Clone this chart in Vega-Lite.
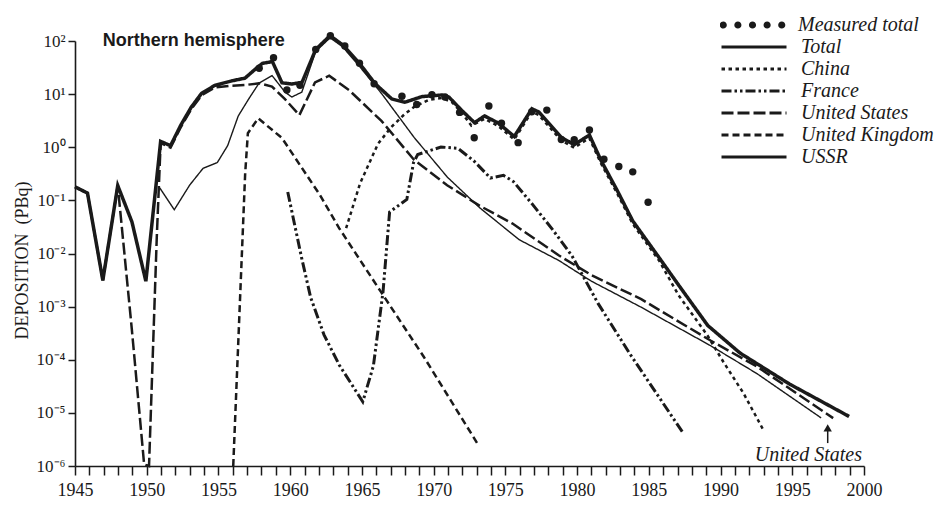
{
  "$schema": "https://vega.github.io/schema/vega-lite/v6.json",
  "width": 789,
  "height": 425,
  "autosize": {"type": "none"},
  "padding": {"left": 75, "top": 41, "right": 77, "bottom": 44},
  "background": "white",
  "config": {
    "view": {"stroke": null},
    "font": "Liberation Serif",
    "axis": {"grid": false, "ticks": true, "tickOpacity": 1, "labelOverlap": false, "domainColor": "#1a1a1a", "domainWidth": 1.6, "tickColor": "#1a1a1a", "tickWidth": 1.5, "labelColor": "#1a1a1a", "labelFont": "Liberation Serif", "titleFont": "Liberation Serif", "titleColor": "#1a1a1a"},
    "axisX": {"labelOverlap": false},
    "axisY": {"labelOverlap": false}
  },
  "datasets": {
    "deposition": [
      {"series": "Total", "year": 1945.0, "value": 0.18},
      {"series": "Total", "year": 1945.87, "value": 0.137},
      {"series": "Total", "year": 1946.94, "value": 0.00312},
      {"series": "Total", "year": 1947.98, "value": 0.19},
      {"series": "Total", "year": 1948.97, "value": 0.0393},
      {"series": "Total", "year": 1949.94, "value": 0.00301},
      {"series": "Total", "year": 1950.97, "value": 1.29},
      {"series": "Total", "year": 1951.66, "value": 1.07},
      {"series": "Total", "year": 1952.39, "value": 2.65},
      {"series": "Total", "year": 1953.11, "value": 5.71},
      {"series": "Total", "year": 1953.83, "value": 10.4},
      {"series": "Total", "year": 1954.75, "value": 14.6},
      {"series": "Total", "year": 1955.94, "value": 17.8},
      {"series": "Total", "year": 1956.85, "value": 20.0},
      {"series": "Total", "year": 1957.56, "value": 29.4},
      {"series": "Total", "year": 1958.06, "value": 37.9},
      {"series": "Total", "year": 1958.76, "value": 41.0},
      {"series": "Total", "year": 1959.43, "value": 16.3},
      {"series": "Total", "year": 1960.12, "value": 15.5},
      {"series": "Total", "year": 1960.83, "value": 16.7},
      {"series": "Total", "year": 1961.78, "value": 69.3},
      {"series": "Total", "year": 1962.78, "value": 126},
      {"series": "Total", "year": 1963.67, "value": 84.1},
      {"series": "Total", "year": 1964.83, "value": 38.0},
      {"series": "Total", "year": 1965.92, "value": 15.7},
      {"series": "Total", "year": 1967.09, "value": 8.09},
      {"series": "Total", "year": 1967.99, "value": 7.03},
      {"series": "Total", "year": 1969.18, "value": 8.97},
      {"series": "Total", "year": 1970.58, "value": 9.64},
      {"series": "Total", "year": 1971.07, "value": 8.77},
      {"series": "Total", "year": 1971.96, "value": 4.93},
      {"series": "Total", "year": 1972.85, "value": 2.9},
      {"series": "Total", "year": 1973.55, "value": 3.89},
      {"series": "Total", "year": 1974.52, "value": 2.84},
      {"series": "Total", "year": 1975.62, "value": 1.59},
      {"series": "Total", "year": 1976.85, "value": 5.3},
      {"series": "Total", "year": 1977.33, "value": 4.61},
      {"series": "Total", "year": 1978.9, "value": 1.53},
      {"series": "Total", "year": 1979.8, "value": 1.12},
      {"series": "Total", "year": 1980.86, "value": 1.7},
      {"series": "Total", "year": 1981.66, "value": 0.569},
      {"series": "Total", "year": 1982.8, "value": 0.153},
      {"series": "Total", "year": 1983.88, "value": 0.041},
      {"series": "Total", "year": 1985.71, "value": 0.00841},
      {"series": "Total", "year": 1987.07, "value": 0.00256},
      {"series": "Total", "year": 1989.11, "value": 0.000441},
      {"series": "Total", "year": 1991.37, "value": 0.000133},
      {"series": "Total", "year": 1994.82, "value": 0.0000347},
      {"series": "Total", "year": 1998.96, "value": 0.00000857},

      {"series": "China", "year": 1963.9, "value": 0.0299},
      {"series": "China", "year": 1964.87, "value": 0.208},
      {"series": "China", "year": 1966.12, "value": 1.16},
      {"series": "China", "year": 1967.05, "value": 2.4},
      {"series": "China", "year": 1967.97, "value": 4.18},
      {"series": "China", "year": 1968.68, "value": 5.86},
      {"series": "China", "year": 1969.67, "value": 7.83},
      {"series": "China", "year": 1970.58, "value": 8.45},
      {"series": "China", "year": 1971.27, "value": 7.05},
      {"series": "China", "year": 1971.95, "value": 4.52},
      {"series": "China", "year": 1972.63, "value": 2.55},
      {"series": "China", "year": 1973.55, "value": 3.42},
      {"series": "China", "year": 1974.52, "value": 2.49},
      {"series": "China", "year": 1975.62, "value": 1.4},
      {"series": "China", "year": 1976.84, "value": 4.65},
      {"series": "China", "year": 1977.32, "value": 4.06},
      {"series": "China", "year": 1978.9, "value": 1.34},
      {"series": "China", "year": 1979.79, "value": 0.982},
      {"series": "China", "year": 1980.85, "value": 1.49},
      {"series": "China", "year": 1981.66, "value": 0.5},
      {"series": "China", "year": 1982.8, "value": 0.134},
      {"series": "China", "year": 1983.88, "value": 0.036},
      {"series": "China", "year": 1985.71, "value": 0.0074},
      {"series": "China", "year": 1987.06, "value": 0.00166},
      {"series": "China", "year": 1989.09, "value": 0.000286},
      {"series": "China", "year": 1990.24, "value": 0.0000873},
      {"series": "China", "year": 1991.6, "value": 0.0000234},
      {"series": "China", "year": 1992.94, "value": 0.00000502},

      {"series": "France", "year": 1959.83, "value": 0.144},
      {"series": "France", "year": 1960.79, "value": 0.00845},
      {"series": "France", "year": 1961.43, "value": 0.00148},
      {"series": "France", "year": 1962.36, "value": 0.000294},
      {"series": "France", "year": 1963.43, "value": 0.0000789},
      {"series": "France", "year": 1965.06, "value": 0.0000162},
      {"series": "France", "year": 1965.8, "value": 0.0000766},
      {"series": "France", "year": 1966.47, "value": 0.00188},
      {"series": "France", "year": 1966.93, "value": 0.0603},
      {"series": "France", "year": 1968.13, "value": 0.104},
      {"series": "France", "year": 1968.6, "value": 0.516},
      {"series": "France", "year": 1968.89, "value": 0.728},
      {"series": "France", "year": 1970.51, "value": 1.01},
      {"series": "France", "year": 1971.69, "value": 0.953},
      {"series": "France", "year": 1972.79, "value": 0.558},
      {"series": "France", "year": 1973.96, "value": 0.263},
      {"series": "France", "year": 1974.87, "value": 0.296},
      {"series": "France", "year": 1975.56, "value": 0.226},
      {"series": "France", "year": 1976.92, "value": 0.0822},
      {"series": "France", "year": 1978.28, "value": 0.0285},
      {"series": "France", "year": 1979.64, "value": 0.00908},
      {"series": "France", "year": 1981.46, "value": 0.00115},
      {"series": "France", "year": 1983.69, "value": 0.000128},
      {"series": "France", "year": 1987.35, "value": 0.00000434},

      {"series": "United States", "year": 1945.0, "value": 0.18},
      {"series": "United States", "year": 1945.87, "value": 0.137},
      {"series": "United States", "year": 1946.94, "value": 0.00312},
      {"series": "United States", "year": 1947.98, "value": 0.19},
      {"series": "United States", "year": 1948.96, "value": 0.000379},
      {"series": "United States", "year": 1949.82, "value": 0.00000107},
      {"series": "United States", "year": 1950.16, "value": 0.000001},
      {"series": "United States", "year": 1950.7, "value": 0.02},
      {"series": "United States", "year": 1950.97, "value": 1.2},
      {"series": "United States", "year": 1951.66, "value": 0.982},
      {"series": "United States", "year": 1952.39, "value": 2.43},
      {"series": "United States", "year": 1953.11, "value": 5.25},
      {"series": "United States", "year": 1953.83, "value": 9.53},
      {"series": "United States", "year": 1954.74, "value": 13.3},
      {"series": "United States", "year": 1955.93, "value": 14.4},
      {"series": "United States", "year": 1956.84, "value": 14.8},
      {"series": "United States", "year": 1957.82, "value": 16.0},
      {"series": "United States", "year": 1958.73, "value": 13.9},
      {"series": "United States", "year": 1959.62, "value": 8.15},
      {"series": "United States", "year": 1960.64, "value": 4.02},
      {"series": "United States", "year": 1961.73, "value": 16.6},
      {"series": "United States", "year": 1962.72, "value": 22.2},
      {"series": "United States", "year": 1964.1, "value": 11.9},
      {"series": "United States", "year": 1966.36, "value": 3.14},
      {"series": "United States", "year": 1968.61, "value": 0.589},
      {"series": "United States", "year": 1970.94, "value": 0.193},
      {"series": "United States", "year": 1973.22, "value": 0.0789},
      {"series": "United States", "year": 1975.5, "value": 0.0366},
      {"series": "United States", "year": 1978.74, "value": 0.00916},
      {"series": "United States", "year": 1981.01, "value": 0.00391},
      {"series": "United States", "year": 1984.47, "value": 0.00138},
      {"series": "United States", "year": 1989.3, "value": 0.00023},
      {"series": "United States", "year": 1992.54, "value": 0.0000745},
      {"series": "United States", "year": 1997.85, "value": 0.00000796},

      {"series": "United Kingdom", "year": 1956.03, "value": 0.000001},
      {"series": "United Kingdom", "year": 1956.86, "value": 0.312},
      {"series": "United Kingdom", "year": 1957.05, "value": 1.84},
      {"series": "United Kingdom", "year": 1957.77, "value": 3.5},
      {"series": "United Kingdom", "year": 1959.42, "value": 1.5},
      {"series": "United Kingdom", "year": 1962.06, "value": 0.128},
      {"series": "United Kingdom", "year": 1963.41, "value": 0.0301},
      {"series": "United Kingdom", "year": 1966.33, "value": 0.00189},
      {"series": "United Kingdom", "year": 1969.31, "value": 0.000114},
      {"series": "United Kingdom", "year": 1973.03, "value": 0.00000271},

      {"series": "USSR", "year": 1950.84, "value": 0.183},
      {"series": "USSR", "year": 1951.92, "value": 0.0667},
      {"series": "USSR", "year": 1953.0, "value": 0.195},
      {"series": "USSR", "year": 1953.93, "value": 0.402},
      {"series": "USSR", "year": 1954.92, "value": 0.515},
      {"series": "USSR", "year": 1955.64, "value": 1.07},
      {"series": "USSR", "year": 1956.38, "value": 3.88},
      {"series": "USSR", "year": 1957.1, "value": 8.04},
      {"series": "USSR", "year": 1957.82, "value": 16.0},
      {"series": "USSR", "year": 1958.74, "value": 22.3},
      {"series": "USSR", "year": 1959.63, "value": 11.0},
      {"series": "USSR", "year": 1960.11, "value": 8.81},
      {"series": "USSR", "year": 1960.81, "value": 10.9},
      {"series": "USSR", "year": 1961.78, "value": 63.7},
      {"series": "USSR", "year": 1962.78, "value": 115},
      {"series": "USSR", "year": 1963.67, "value": 77.1},
      {"series": "USSR", "year": 1964.83, "value": 33.3},
      {"series": "USSR", "year": 1966.39, "value": 10.1},
      {"series": "USSR", "year": 1968.64, "value": 1.53},
      {"series": "USSR", "year": 1970.96, "value": 0.273},
      {"series": "USSR", "year": 1973.22, "value": 0.0723},
      {"series": "USSR", "year": 1975.96, "value": 0.0182},
      {"series": "USSR", "year": 1978.73, "value": 0.00738},
      {"series": "USSR", "year": 1981.0, "value": 0.00301},
      {"series": "USSR", "year": 1984.46, "value": 0.000977},
      {"series": "USSR", "year": 1989.29, "value": 0.000185},
      {"series": "USSR", "year": 1992.53, "value": 0.000055},
      {"series": "USSR", "year": 1997.01, "value": 0.00000805}
    ],
    "measured": [
      {"series": "Measured total", "year": 1957.84, "value": 30.6},
      {"series": "Measured total", "year": 1958.84, "value": 48.6},
      {"series": "Measured total", "year": 1959.77, "value": 12.0},
      {"series": "Measured total", "year": 1960.68, "value": 14.7},
      {"series": "Measured total", "year": 1961.78, "value": 69.3},
      {"series": "Measured total", "year": 1962.8, "value": 126},
      {"series": "Measured total", "year": 1963.81, "value": 80.5},
      {"series": "Measured total", "year": 1964.83, "value": 38.0},
      {"series": "Measured total", "year": 1965.85, "value": 15.7},
      {"series": "Measured total", "year": 1967.79, "value": 9.14},
      {"series": "Measured total", "year": 1968.82, "value": 6.37},
      {"series": "Measured total", "year": 1969.88, "value": 9.7},
      {"series": "Measured total", "year": 1970.79, "value": 8.81},
      {"series": "Measured total", "year": 1971.81, "value": 4.53},
      {"series": "Measured total", "year": 1972.83, "value": 1.51},
      {"series": "Measured total", "year": 1973.85, "value": 5.98},
      {"series": "Measured total", "year": 1974.73, "value": 2.83},
      {"series": "Measured total", "year": 1975.89, "value": 1.22},
      {"series": "Measured total", "year": 1976.84, "value": 4.65},
      {"series": "Measured total", "year": 1977.89, "value": 5.0},
      {"series": "Measured total", "year": 1978.9, "value": 1.4},
      {"series": "Measured total", "year": 1979.8, "value": 1.39},
      {"series": "Measured total", "year": 1980.86, "value": 2.11},
      {"series": "Measured total", "year": 1981.87, "value": 0.593},
      {"series": "Measured total", "year": 1982.91, "value": 0.433},
      {"series": "Measured total", "year": 1983.88, "value": 0.344},
      {"series": "Measured total", "year": 1984.95, "value": 0.0923}
    ]
  },
  "encoding": {
    "x": {
      "field": "year", "type": "quantitative",
      "scale": {"domain": [1945, 2000], "nice": false, "zero": false},
      "axis": {
        "title": null,
        "values": [1945,1946,1947,1948,1949,1950,1951,1952,1953,1954,1955,1956,1957,1958,1959,1960,1961,1962,1963,1964,1965,1966,1967,1968,1969,1970,1971,1972,1973,1974,1975,1976,1977,1978,1979,1980,1981,1982,1983,1984,1985,1986,1987,1988,1989,1990,1991,1992,1993,1994,1995,1996,1997,1998,1999,2000],
        "format": "d",
        "labelExpr": "datum.value % 5 === 0 ? datum.label : ''",
        "ticks": true,
        "tickSize": 9,
        "labelPadding": 6,
        "labelFontSize": 18,
        "labelOverlap": false,
        "labelFlush": false
      }
    },
    "y": {
      "field": "value", "type": "quantitative",
      "scale": {"type": "log", "domain": [0.000001, 100], "nice": false},
      "axis": {
        "title": "DEPOSITION\u2002(PBq)",
        "titleFontSize": 18,
        "titleFontWeight": "normal",
        "titleX": -53,
        "titleY": 219,
        "titleAngle": -90,
        "titleAlign": "center",
        "titleBaseline": "middle",
        "values": [0.000001, 0.00001, 0.0001, 0.001, 0.01, 0.1, 1, 10, 100],
        "labelExpr": "['10⁻⁶','10⁻⁵','10⁻⁴','10⁻³','10⁻²','10⁻¹','10⁰','10¹','10²'][round(log(datum.value)/LN10)+6]",
        "ticks": true,
        "tickSize": 7,
        "labelPadding": 3,
        "labelFontSize": 17,
        "labelOverlap": false
      }
    }
  },
  "layer": [
    {
      "data": {"name": "deposition"},
      "mark": {"type": "line", "color": "#1a1a1a", "clip": false},
      "encoding": {
        "strokeDash": {
          "field": "series", "type": "nominal",
          "scale": {
            "domain": ["Total", "China", "France", "United States", "United Kingdom", "USSR"],
            "range": [[1, 0], [3.5, 3.5], [10, 3, 2.5, 3, 2.5, 3], [12, 4], [7, 4], [1, 0]]
          },
          "legend": {
            "title": null,
            "orient": "none",
            "legendX": 645,
            "legendY": -4,
            "padding": 0,
            "symbolType": "stroke",
            "symbolSize": 4225,
            "symbolStrokeWidth": 2.8,
            "symbolStrokeColor": "#1a1a1a",
            "clipHeight": 20,
            "labelFont": "Liberation Serif",
            "labelFontStyle": "italic",
            "labelFontSize": 20,
            "labelColor": "#1a1a1a",
            "labelOffset": 13,
            "labelLimit": 250,
            "rowPadding": 2
          }
        },
        "strokeWidth": {
          "condition": [
            {"test": "datum.series === 'Total'", "value": 3.5},
            {"test": "datum.series === 'USSR'", "value": 1.4},
            {"test": "datum.series === 'France'", "value": 3}
          ],
          "value": 2.5
        }
      }
    },
    {
      "data": {"name": "measured"},
      "mark": {"type": "point", "filled": true, "size": 55, "opacity": 1, "clip": false},
      "encoding": {
        "color": {
          "field": "series", "type": "nominal",
          "scale": {"domain": ["Measured total"], "range": ["#1a1a1a"]},
          "legend": {
            "title": null,
            "orient": "none",
            "legendX": 645,
            "legendY": -26,
            "padding": 0,
            "symbolType": "M-1.01,0a0.11,0.11 0 1,0 0.22,0a0.11,0.11 0 1,0 -0.22,0ZM-0.56,0a0.11,0.11 0 1,0 0.22,0a0.11,0.11 0 1,0 -0.22,0ZM-0.11,0a0.11,0.11 0 1,0 0.22,0a0.11,0.11 0 1,0 -0.22,0ZM0.34,0a0.11,0.11 0 1,0 0.22,0a0.11,0.11 0 1,0 -0.22,0ZM0.79,0a0.11,0.11 0 1,0 0.22,0a0.11,0.11 0 1,0 -0.22,0Z",
            "symbolSize": 4225,
            "symbolFillColor": "#1a1a1a",
            "symbolStrokeWidth": 0,
            "clipHeight": 20,
            "labelFont": "Liberation Serif",
            "labelFontStyle": "italic",
            "labelFontSize": 20,
            "labelColor": "#1a1a1a",
            "labelOffset": 13,
            "labelLimit": 250
          }
        }
      }
    },
    {
      "data": {"values": [{"label": "Northern hemisphere", "year": 1946.93, "value": 100}]},
      "mark": {"type": "text", "align": "left", "baseline": "middle", "font": "Liberation Sans", "fontWeight": "bold", "fontSize": 18, "color": "#1a1a1a"},
      "encoding": {"text": {"field": "label"}}
    },
    {
      "data": {"values": [{"label": "United States", "year": 1996.12, "value": 0.00000164}]},
      "mark": {"type": "text", "align": "center", "baseline": "middle", "font": "Liberation Serif", "fontStyle": "italic", "fontSize": 20, "color": "#1a1a1a"},
      "encoding": {"text": {"field": "label"}}
    },
    {
      "data": {"values": [{"year": 1997.47, "value": 0.0000027, "value2": 0.0000052}]},
      "mark": {"type": "rule", "color": "#1a1a1a", "strokeWidth": 1.5},
      "encoding": {"y2": {"field": "value2"}}
    },
    {
      "data": {"values": [{"year": 1997.47, "value": 0.0000052}]},
      "mark": {"type": "point", "shape": "triangle-up", "filled": true, "size": 70, "color": "#1a1a1a", "opacity": 1}
    }
  ]
}
